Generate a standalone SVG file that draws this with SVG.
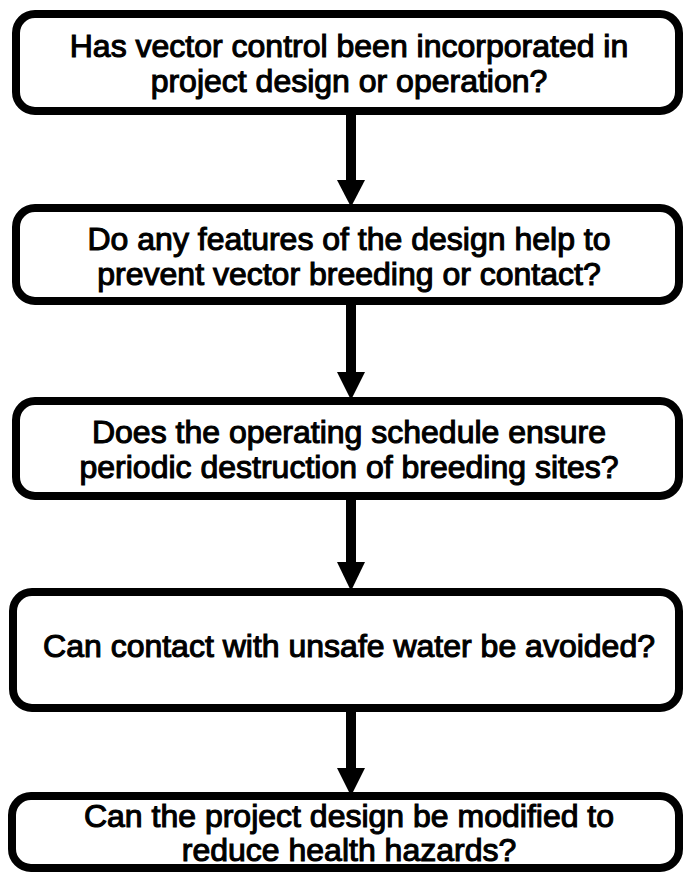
<svg xmlns="http://www.w3.org/2000/svg" width="683" height="873" viewBox="0 0 683 873">
  <style>
    .box { fill: #fff; stroke: #000; stroke-width: 8; }
    .label { font-family: "Liberation Sans", Arial, sans-serif; font-size: 32px; fill: #000; stroke: #000; stroke-width: 1.1; text-anchor: middle; }
    .shaft { stroke: #000; stroke-width: 10; fill: none; }
    .head { fill: #000; }
  </style>
  <rect width="683" height="873" fill="#fff"/>

  <!-- flow arrows between the question boxes -->
  <g id="connectors">
    <line class="shaft" x1="351" y1="111" x2="351" y2="182"/>
    <polygon class="head" points="337,180 365,180 351,207"/>
    <line class="shaft" x1="351" y1="301" x2="351" y2="374"/>
    <polygon class="head" points="337,372 365,372 351,400"/>
    <line class="shaft" x1="351" y1="496" x2="351" y2="564"/>
    <polygon class="head" points="337,562 365,562 351,591"/>
    <line class="shaft" x1="351" y1="708" x2="351" y2="770"/>
    <polygon class="head" points="337,768 365,768 351,796"/>
  </g>

  <g id="node1">
    <rect class="box" x="16" y="14" width="663" height="97" rx="19"/>
    <text class="label" x="349" y="57">Has vector control been incorporated in</text>
    <text class="label" x="349" y="92">project design or operation?</text>
  </g>

  <g id="node2">
    <rect class="box" x="16" y="208" width="663" height="93" rx="19"/>
    <text class="label" x="349" y="250">Do any features of the design help to</text>
    <text class="label" x="349" y="285">prevent vector breeding or contact?</text>
  </g>

  <g id="node3">
    <rect class="box" x="16" y="401" width="663" height="95" rx="19"/>
    <text class="label" x="349" y="443">Does the operating schedule ensure</text>
    <text class="label" x="349" y="478">periodic destruction of breeding sites?</text>
  </g>

  <g id="node4">
    <rect class="box" x="13" y="592" width="666" height="116" rx="19"/>
    <text class="label" x="349" y="657">Can contact with unsafe water be avoided?</text>
  </g>

  <g id="node5">
    <rect class="box" x="12" y="796" width="667" height="72" rx="19"/>
    <text class="label" x="349" y="827">Can the project design be modified to</text>
    <text class="label" x="349" y="861">reduce health hazards?</text>
  </g>
</svg>
